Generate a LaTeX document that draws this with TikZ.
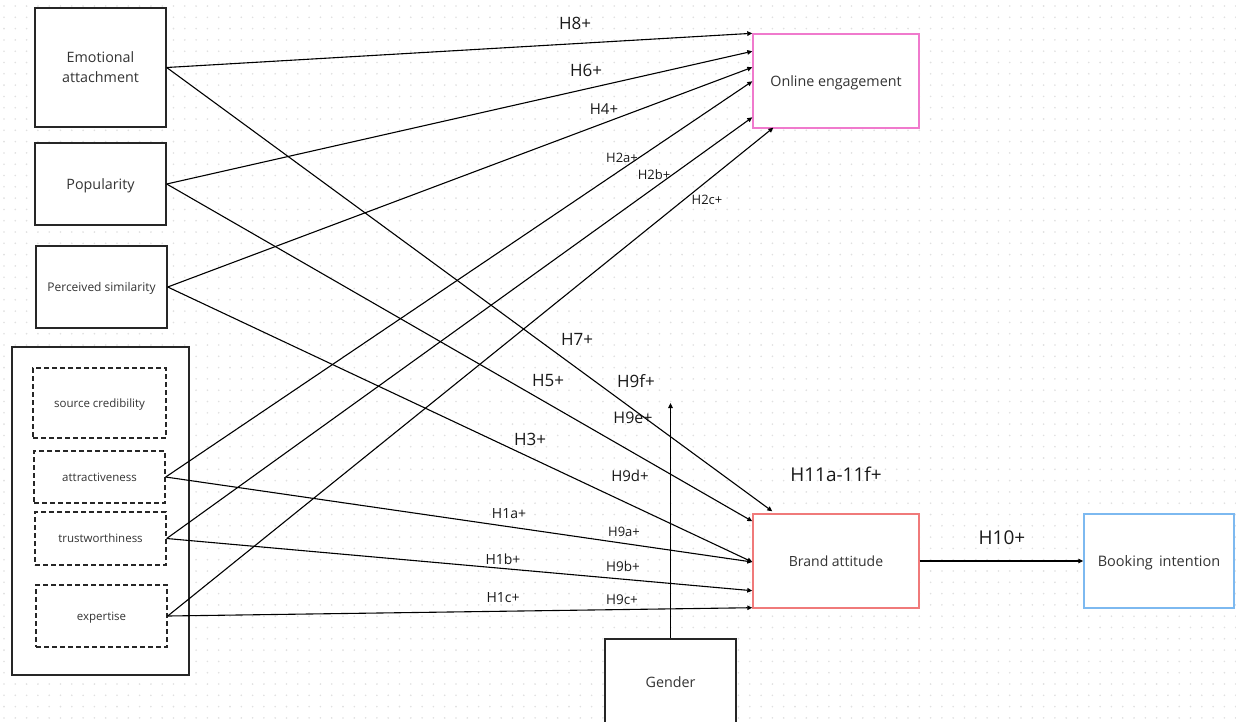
\documentclass[tikz,border=0pt]{standalone}
\usepackage{fontspec}
\setmainfont{Open Sans}
\usetikzlibrary{arrows.meta,calc}
\definecolor{txt}{HTML}{333333}
\definecolor{pinkb}{HTML}{F07ACD}
\definecolor{redb}{HTML}{F07A7A}
\definecolor{blueb}{HTML}{7DB9F0}
\tikzset{
  box/.style={draw=black!85, line width=1.4pt, fill=white, text=txt, align=center, inner sep=0pt, text depth=0pt},
  dbox/.style={box, dash pattern=on 5pt off 3pt},
  link/.style={line width=1.1pt, draw=black},
  arr/.style={link, -{Triangle[length=5pt,width=4.5pt]}},
  lab/.style={text=black!90, inner sep=0pt},
}
\begin{document}
\begin{tikzpicture}[x=1pt,y=-1pt]
\useasboundingbox (0,0) rectangle (1236,721);
\fill[white] (0,0) rectangle (1236,721);
% dotted grid
\foreach \yy in {6,17.3,...,721}{
  \draw[black!12, line width=1.8pt, line cap=round, dash pattern=on 0pt off 11.3pt] (4,\yy) -- (1236,\yy);
}
% nodes
\node[box, minimum width=131pt, minimum height=119pt, font=\fontsize{14.3}{20}\selectfont] (ea) at (100.5,67.5) {Emotional\\attachment};
\node[box, minimum width=131pt, minimum height=82pt, font=\fontsize{14.3}{18}\selectfont] (pop) at (100.5,184) {Popularity};
\node[box, minimum width=131pt, minimum height=82pt, font=\fontsize{12}{15}\selectfont] (ps) at (101.5,287) {Perceived similarity};
\node[box, minimum width=177pt, minimum height=328pt] (outer) at (100.5,511) {};
\node[dbox, minimum width=133pt, minimum height=70pt, font=\fontsize{11.5}{14}\selectfont] (sc) at (99.5,403) {source credibility};
\node[dbox, minimum width=131pt, minimum height=52pt, font=\fontsize{11.5}{14}\selectfont] (attr) at (99.5,477) {attractiveness};
\node[dbox, minimum width=131pt, minimum height=53pt, font=\fontsize{11.5}{14}\selectfont] (trust) at (100.5,538.5) {trustworthiness};
\node[dbox, minimum width=131pt, minimum height=62pt, font=\fontsize{11.5}{14}\selectfont] (exp) at (101.5,616) {expertise};
\node[box, draw=pinkb, minimum width=166pt, minimum height=94pt, font=\fontsize{14.3}{18}\selectfont] (oe) at (836,81) {Online engagement};
\node[box, draw=redb, minimum width=166pt, minimum height=94pt, font=\fontsize{14}{18}\selectfont] (ba) at (836,561) {Brand attitude};
\node[box, draw=blueb, minimum width=150pt, minimum height=94pt, font=\fontsize{14.5}{18}\selectfont] (bi) at (1159,561) {Booking\, intention};
\node[box, minimum width=131pt, minimum height=102pt] (gen) at (670.5,690) {};
\node[text=txt, font=\fontsize{14.3}{18}\selectfont] (gentext) at (670.5,682) {Gender};
\coordinate (gtop) at (670.5,403);
% connectors to online engagement
\draw[arr] (ea.east) -- (oe.north west);
\draw[arr] (pop.east) -- ([yshift=-18pt]oe.north west);
\draw[arr] (ps.east) -- ([yshift=-34pt]oe.north west);
\draw[arr] (attr.east) -- ([yshift=-48pt]oe.north west);
\draw[arr] (trust.east) -- ([yshift=-84pt]oe.north west);
\draw[arr] (exp.east) -- ([xshift=21pt,yshift=1pt]oe.south west);
% connectors to brand attitude
\draw[arr] (ea.east) -- ([xshift=20pt,yshift=2pt]ba.north west);
\draw[arr] (pop.east) -- ([yshift=-8pt]ba.north west);
\draw[arr] (ps.east) -- ([yshift=-1pt]ba.west);
\draw[arr] (attr.east) -- ([yshift=-1pt]ba.west);
\draw[arr] (trust.east) -- ([yshift=18pt]ba.south west);
\draw[arr] (exp.east) -- ([yshift=1pt]ba.south west);
\draw[arr] (ba.east) -- (bi.west);
\draw[arr] (gen.north) -- (gtop);
% labels
\node[lab, font=\fontsize{17}{20}\selectfont] (l8) at (575,23) {H8+};
\node[lab, font=\fontsize{17}{20}\selectfont] (l6) at (586,70) {H6+};
\node[lab, font=\fontsize{15}{18}\selectfont] (l4) at (604,109) {H4+};
\node[lab, font=\fontsize{13}{16}\selectfont] (l2a) at (622,158) {H2a+};
\node[lab, font=\fontsize{13}{16}\selectfont] (l2b) at (654,175) {H2b+};
\node[lab, font=\fontsize{13}{16}\selectfont] (l2c) at (707,200) {H2c+};
\node[lab, font=\fontsize{17}{20}\selectfont] (l7) at (577,339) {H7+};
\node[lab, font=\fontsize{17}{20}\selectfont] (l5) at (548,381) {H5+};
\node[lab, font=\fontsize{17}{20}\selectfont] (l9f) at (636,381) {H9f+};
\node[lab, font=\fontsize{16}{20}\selectfont] (l9e) at (633,418) {H9e+};
\node[lab, font=\fontsize{17}{20}\selectfont] (l3) at (530,439) {H3+};
\node[lab, font=\fontsize{15}{18}\selectfont] (l9d) at (630,476) {H9d+};
\node[lab, font=\fontsize{19}{22}\selectfont] (l11) at (836,474) {H11a-11f+};
\node[lab, font=\fontsize{14}{17}\selectfont] (l1a) at (509,514) {H1a+};
\node[lab, font=\fontsize{13}{16}\selectfont] (l9a) at (624,532) {H9a+};
\node[lab, font=\fontsize{14}{17}\selectfont] (l1b) at (503,559) {H1b+};
\node[lab, font=\fontsize{13.5}{16}\selectfont] (l9b) at (623,566) {H9b+};
\node[lab, font=\fontsize{14}{17}\selectfont] (l1c) at (503,598) {H1c+};
\node[lab, font=\fontsize{13.5}{16}\selectfont] (l9c) at (622,600) {H9c+};
\node[lab, font=\fontsize{19}{22}\selectfont] (l10) at (1002,538) {H10+};
\end{tikzpicture}
\end{document}
